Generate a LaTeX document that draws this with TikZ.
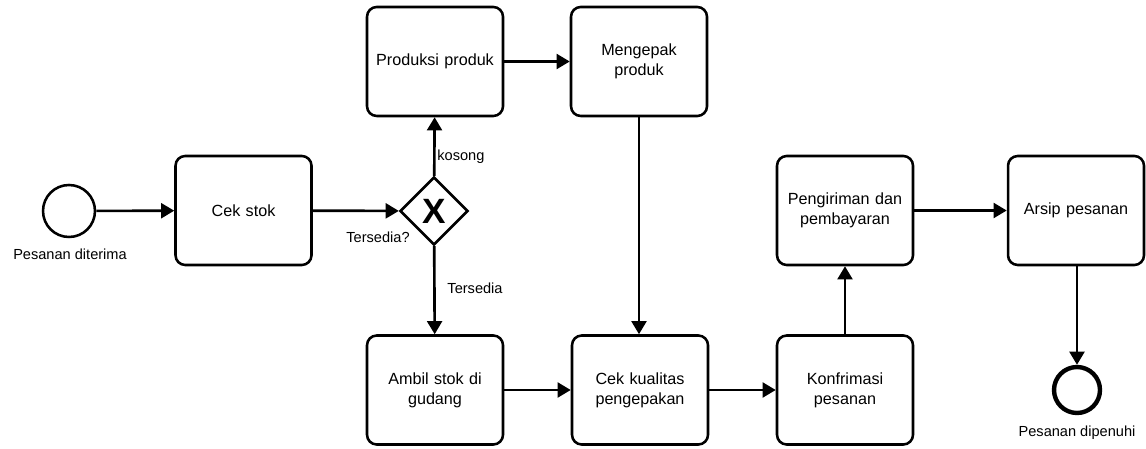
\documentclass[tikz,border=0pt]{standalone}
\usepackage{fontspec}
\setmainfont{Liberation Sans}
\usetikzlibrary{arrows.meta,shapes.geometric}
\begin{document}
\begin{tikzpicture}[x=0.02cm,y=-0.02cm,
  task/.style={draw,line width=1.45pt,rounded corners=5.5pt,minimum width=2.72cm,minimum height=2.18cm,
    align=center,text width=2.4cm,font=\fontsize{9.2}{11.5}\selectfont,inner sep=0pt},
  startev/.style={draw,circle,line width=1.45pt,minimum size=1.04cm,inner sep=0pt},
  endev/.style={draw,circle,line width=2.5pt,minimum size=0.92cm,inner sep=0pt},
  gate/.style={draw,diamond,line width=1.45pt,minimum size=1.36cm,inner sep=0pt,aspect=1,
    font=\fontsize{20}{20}\bfseries\selectfont},
  lbl/.style={font=\fontsize{8.3}{10}\selectfont,inner sep=0pt},
  flow/.style={line width=1.5pt,-{Triangle[length=7.5pt,width=8.5pt]}}]
  \useasboundingbox (0,0) rectangle (1146,449);
  % events
  \node[startev] (start) at (69,211) {};
  \node[lbl] (startlbl) at (70,254) {Pesanan diterima};
  \node[endev] (end) at (1077,390) {};
  \node[lbl] (endlbl) at (1077,433) {Pesanan dipenuhi};
  % gateway
  \node[gate] (gw) at (434,211) {X};
  % tasks
  \node[task] (cek) at (243.5,210.5) {Cek stok};
  \node[task] (prod) at (435,61.5) {Produksi produk};
  \node[task] (meng) at (639,61.5) {Mengepak\\produk};
  \node[task] (ambil) at (435,390) {Ambil stok di\\gudang};
  \node[task] (kual) at (640,390) {Cek kualitas\\pengepakan};
  \node[task] (konf) at (845,390) {Konfrimasi\\pesanan};
  \node[task] (peng) at (845,210.5) {Pengiriman dan\\pembayaran};
  \node[task] (arsip) at (1076,210.5) {Arsip pesanan};
  % flows
  \draw[flow] (start) -- (cek);
  \draw[flow] (cek) -- (gw);
  \draw[flow] (gw) -- (prod);
  \draw[flow] (gw) -- (ambil);
  \draw[flow] (prod) -- (meng);
  \draw[flow] (meng.south) -- (meng.south |- kual.north);
  \draw[flow] (ambil) -- (kual);
  \draw[flow] (kual) -- (konf);
  \draw[flow] (konf) -- (peng);
  \draw[flow] (peng) -- (arsip);
  \draw[flow] (arsip.south -| end.north) -- (end);
  % flow labels
  \node[lbl,anchor=west] (lkosong) at (437,157) {kosong};
  \node[lbl] (lq) at (378,237) {Tersedia?};
  \node[lbl] (lada) at (475,288) {Tersedia};
\end{tikzpicture}
\end{document}
